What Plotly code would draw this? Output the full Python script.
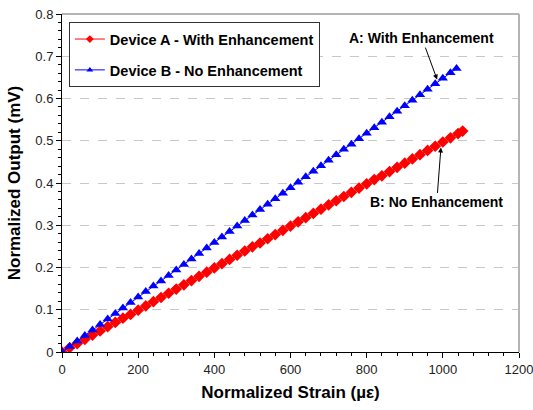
import plotly.graph_objects as go

# Device A (red diamonds)
strain_a = [0, 20, 40, 60, 80, 100, 120, 140, 160, 180, 200, 220, 240, 260, 280, 300, 320, 340, 360, 380,
            400, 420, 440, 460, 480, 500, 520, 540, 560, 580, 600, 620, 640, 660, 680, 700, 720, 740, 760, 780,
            800, 820, 840, 860, 880, 900, 920, 940, 960, 980, 1000, 1020, 1040, 1052]
output_a = [0.000, 0.010, 0.020, 0.030, 0.040, 0.050, 0.060, 0.070, 0.080, 0.089, 0.099, 0.109, 0.119, 0.129,
            0.139, 0.149, 0.159, 0.169, 0.179, 0.189, 0.199, 0.209, 0.219, 0.229, 0.239, 0.249, 0.258, 0.268,
            0.278, 0.288, 0.298, 0.308, 0.318, 0.328, 0.338, 0.348, 0.358, 0.368, 0.378, 0.388, 0.398, 0.408,
            0.417, 0.427, 0.437, 0.447, 0.457, 0.467, 0.477, 0.487, 0.497, 0.507, 0.517, 0.523]

# Device B (blue triangles)
strain_b = [0, 20, 40, 60, 80, 100, 120, 140, 160, 180, 200, 220, 240, 260, 280, 300, 320, 340, 360, 380,
            400, 420, 440, 460, 480, 500, 520, 540, 560, 580, 600, 620, 640, 660, 680, 700, 720, 740, 760, 780,
            800, 820, 840, 860, 880, 900, 920, 940, 960, 980, 1000, 1020, 1036]
output_b = [0.000, 0.013, 0.026, 0.039, 0.052, 0.065, 0.078, 0.091, 0.104, 0.117, 0.130, 0.143, 0.156, 0.168,
            0.181, 0.194, 0.207, 0.220, 0.233, 0.246, 0.259, 0.272, 0.285, 0.298, 0.311, 0.324, 0.337, 0.350,
            0.363, 0.376, 0.389, 0.402, 0.415, 0.428, 0.441, 0.454, 0.467, 0.480, 0.492, 0.505, 0.518, 0.531,
            0.544, 0.557, 0.570, 0.583, 0.596, 0.609, 0.622, 0.635, 0.648, 0.661, 0.671]

name_a = "Device A - With Enhancement"
name_b = "Device B - No Enhancement"

FONT = "Arial, Liberation Sans, sans-serif"
RED = "#ff0000"
BLUE = "#0000ff"

fig = go.Figure()
fig.add_trace(go.Scatter(x=strain_a, y=output_a, mode="lines+markers", name=name_a, showlegend=False,
                         line=dict(color=RED, width=1),
                         marker=dict(symbol="diamond", size=9, color=RED)))
fig.add_trace(go.Scatter(x=strain_b, y=output_b, mode="lines+markers", name=name_b, showlegend=False,
                         line=dict(color=BLUE, width=1),
                         marker=dict(symbol="triangle-up", size=9, color=BLUE)))
# legend entries (small markers like the reference)
fig.add_trace(go.Scatter(x=[None], y=[None], mode="lines+markers", name="<b>" + name_a + "</b>",
                         legendgroup="a",
                         line=dict(color=RED, width=1), marker=dict(symbol="diamond", size=6, color=RED)))
fig.add_trace(go.Scatter(x=[None], y=[None], mode="lines+markers", name="<b>" + name_b + "</b>",
                         legendgroup="b",
                         line=dict(color=BLUE, width=1), marker=dict(symbol="triangle-up", size=6, color=BLUE)))

fig.add_annotation(x=985, y=0.645, ax=945, ay=0.743, axref="x", ayref="y", xref="x", yref="y",
                   text="<b>A: With Enhancement</b>", showarrow=True, arrowhead=2, arrowsize=1,
                   arrowwidth=1, arrowcolor="black", font=dict(family=FONT, size=14, color="black"))
fig.add_annotation(x=995, y=0.484, ax=984, ay=0.354, axref="x", ayref="y", xref="x", yref="y",
                   text="<b>B: No Enhancement</b>", showarrow=True, arrowhead=2, arrowsize=1,
                   arrowwidth=1, arrowcolor="black", font=dict(family=FONT, size=14, color="black"))

# gray top/right frame
fig.add_shape(type="line", xref="paper", yref="paper", x0=0, x1=1, y0=1, y1=1,
              line=dict(color="#b4b4b4", width=2))
fig.add_shape(type="line", xref="paper", yref="paper", x0=1, x1=1, y0=0, y1=1,
              line=dict(color="#b4b4b4", width=2))

fig.update_layout(
    width=533, height=410,
    margin=dict(l=62, r=14, t=14, b=58, autoexpand=False),
    plot_bgcolor="white", paper_bgcolor="white",
    font=dict(family=FONT, size=13, color="#222"),
    showlegend=True,
    legend=dict(x=0.015, y=0.976, xanchor="left", yanchor="top",
                bordercolor="#333", borderwidth=1, bgcolor="white",
                font=dict(family=FONT, size=14.5, color="black"),
                tracegroupgap=9),
    xaxis=dict(range=[0, 1200], dtick=200, tick0=0, showgrid=False, zeroline=False, automargin=False,
               showline=True, linecolor="black", linewidth=1,
               ticks="outside", ticklen=5, tickcolor="black", ticklabeloverflow="allow",
               minor=dict(dtick=40, ticks="outside", ticklen=3, tickcolor="black"),
               title=dict(text="<b>Normalized Strain (µε)</b>", font=dict(family=FONT, size=17, color="black"), standoff=10),
               tickfont=dict(family=FONT, size=13, color="#222")),
    yaxis=dict(range=[0, 0.8], dtick=0.1, tick0=0, showgrid=True, gridcolor="#c8c8c8",
               griddash="dash", gridwidth=1, zeroline=False, automargin=False,
               showline=True, linecolor="black", linewidth=1,
               ticks="outside", ticklen=5, tickcolor="black", ticklabeloverflow="allow",
               minor=dict(dtick=0.02, ticks="outside", ticklen=3, tickcolor="black"),
               title=dict(text="<b>Normalized Output (mV)</b>", font=dict(family=FONT, size=17, color="black"), standoff=10),
               tickfont=dict(family=FONT, size=13, color="#222")),
)

# remove the default page margin so the 533x410 figure fills the window exactly
fig.write_html("out.html", config={"displayModeBar": False},
               post_script="document.body.style.margin='0px';")
